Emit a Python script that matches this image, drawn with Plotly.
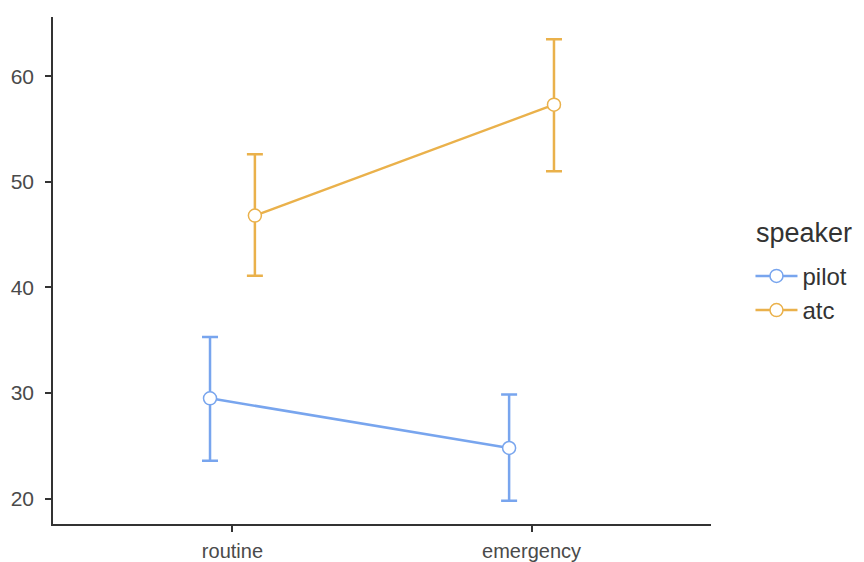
import plotly.graph_objects as go

categories = ["routine", "emergency"]
speakers = ["pilot", "atc"]
pilot_mean = [29.5, 24.8]
pilot_lower = [23.6, 19.8]
pilot_upper = [35.3, 29.85]
atc_mean = [46.8, 57.3]
atc_lower = [41.1, 51.0]
atc_upper = [52.6, 63.5]
y_ticks = [20, 30, 40, 50, 60]
legend_title = "speaker"

colors = {"pilot": "#78A5EE", "atc": "#EAB14B"}
dodge = {"pilot": -0.075, "atc": 0.075}
data = {
    "pilot": (pilot_mean, pilot_lower, pilot_upper),
    "atc": (atc_mean, atc_lower, atc_upper),
}

fig = go.Figure()
for sp in speakers:
    m, lo, up = data[sp]
    xs = [i + 1 + dodge[sp] for i in range(len(categories))]
    fig.add_trace(go.Scatter(
        x=xs, y=m, name=sp, mode="lines+markers",
        line=dict(color=colors[sp], width=2.5),
        marker=dict(size=13, color="white", line=dict(color=colors[sp], width=1.5)),
        error_y=dict(type="data", symmetric=False,
                     array=[u - v for u, v in zip(up, m)],
                     arrayminus=[v - l for v, l in zip(m, lo)],
                     color=colors[sp], thickness=2.5, width=8),
    ))

FONT = "Liberation Sans, Arial, sans-serif"
axis_font = dict(family=FONT, size=21, color="#4a4a4a")
# page body has an 8px default margin; compensate so the plot sits where the reference's does
fig.update_layout(
    width=856, height=554,
    margin=dict(l=45, r=153, t=9, b=38),
    plot_bgcolor="white", paper_bgcolor="white",
    showlegend=True,
    legend=dict(
        font=dict(family=FONT, size=24, color="#333333"),
        x=1.06, xanchor="left", y=0.455, yanchor="middle",
        tracegroupgap=0, itemwidth=42,
    ),
    annotations=[dict(
        text=legend_title, xref="paper", yref="paper", x=1.066, y=0.574,
        xanchor="left", yanchor="middle", showarrow=False,
        font=dict(family=FONT, size=27, color="#333333"),
    )],
    xaxis=dict(
        range=[0.4, 2.6], tickvals=[1, 2], ticktext=categories,
        showline=True, linecolor="#333333", linewidth=1.5,
        ticks="outside", ticklen=6, tickcolor="#333333", tickwidth=1.5,
        showgrid=False, zeroline=False, tickfont=dict(family=FONT, size=20, color="#4a4a4a"),
        automargin=False, ticklabelstandoff=2,
    ),
    yaxis=dict(
        range=[17.6, 65.6], tickvals=y_ticks,
        showline=True, linecolor="#333333", linewidth=1.5,
        ticks="outside", ticklen=6, tickcolor="#333333", tickwidth=1.5,
        showgrid=False, zeroline=False, tickfont=axis_font,
        automargin=False, ticklabelstandoff=7,
    ),
)
fig.write_html("out.html")
